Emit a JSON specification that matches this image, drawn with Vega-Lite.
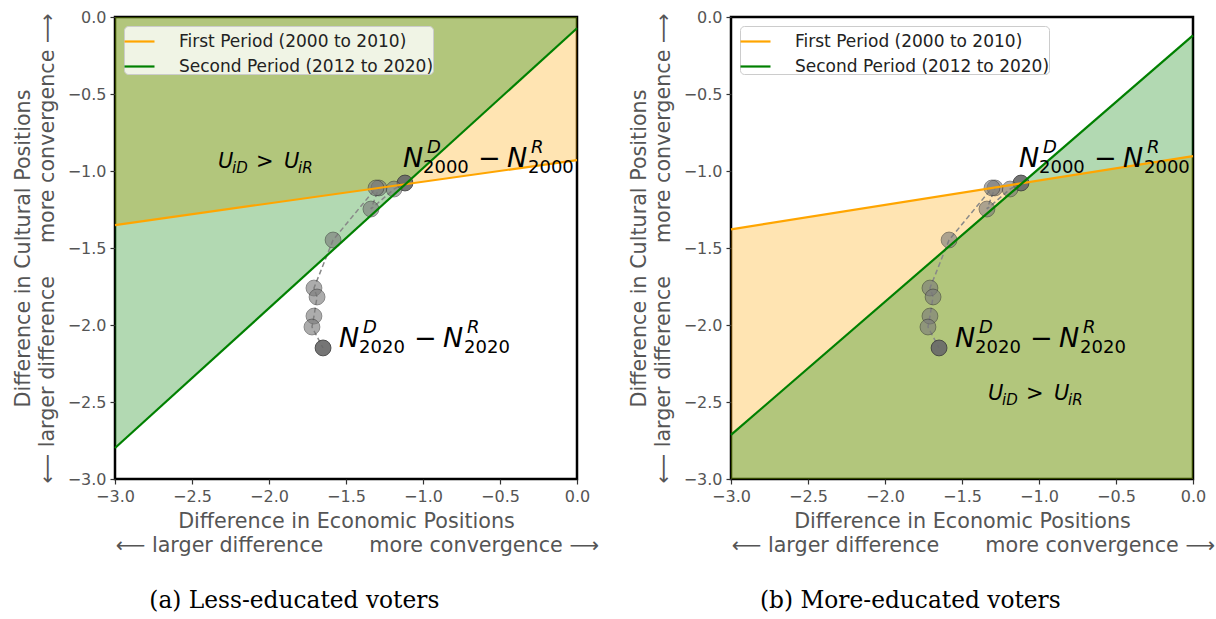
{
  "$schema": "https://vega.github.io/schema/vega-lite/v6.json",
  "background": "white",
  "padding": {"left": 10, "top": 7, "right": 0, "bottom": 5},
  "datasets": {
    "lines": [
      {"panel": "a", "period": "First Period (2000 to 2010)", "x": -3, "y": -1.351},
      {"panel": "a", "period": "First Period (2000 to 2010)", "x": 0, "y": -0.929},
      {"panel": "a", "period": "Second Period (2012 to 2020)", "x": -3, "y": -2.799},
      {"panel": "a", "period": "Second Period (2012 to 2020)", "x": 0, "y": -0.073},
      {"panel": "b", "period": "First Period (2000 to 2010)", "x": -3, "y": -1.379},
      {"panel": "b", "period": "First Period (2000 to 2010)", "x": 0, "y": -0.903},
      {"panel": "b", "period": "Second Period (2012 to 2020)", "x": -3, "y": -2.714},
      {"panel": "b", "period": "Second Period (2012 to 2020)", "x": 0, "y": -0.119}
    ],
    "points": [
      {"year": 2000, "x": -1.117, "y": -1.078},
      {"year": 2002, "x": -1.188, "y": -1.117},
      {"year": 2004, "x": -1.338, "y": -1.247},
      {"year": 2006, "x": -1.286, "y": -1.110},
      {"year": 2008, "x": -1.305, "y": -1.110},
      {"year": 2010, "x": -1.584, "y": -1.448},
      {"year": 2012, "x": -1.708, "y": -1.760},
      {"year": 2014, "x": -1.688, "y": -1.818},
      {"year": 2016, "x": -1.708, "y": -1.942},
      {"year": 2018, "x": -1.721, "y": -2.013},
      {"year": 2020, "x": -1.649, "y": -2.149}
    ],
    "labels": [
      {"year": "2000", "x": -1.130, "y": -0.974},
      {"year": "2020", "x": -1.545, "y": -2.143}
    ],
    "ulabels": [
      {"panel": "a", "x": -2.331, "y": -0.981},
      {"panel": "b", "x": -1.331, "y": -2.487}
    ]
  },
  "config": {
    "font": "DejaVu Sans",
    "view": {"stroke": "black", "strokeWidth": 2.5},
    "axis": {
      "grid": false, "domain": false, "tickColor": "#333", "tickSize": 5, "tickWidth": 1.2,
      "labelFont": "DejaVu Sans", "labelFontSize": 16, "labelColor": "#555", "labelPadding": 4,
      "labelFlush": false, "labelOverlap": false,
      "titleFont": "DejaVu Sans", "titleFontSize": 20.7, "titleColor": "#555", "titleFontWeight": "normal", "titleLineHeight": 24
    },
    "legend": {
      "orient": "top-left", "offset": 9, "fillColor": "rgba(255,255,255,0.8)", "strokeColor": "#cccccc",
      "cornerRadius": 4, "padding": -1, "symbolType": "stroke", "symbolSize": 900, "symbolStrokeWidth": 2.2,
      "labelFont": "DejaVu Sans", "labelFontSize": 17, "labelColor": "#222", "rowPadding": -5, "labelOffset": 23, "labelLimit": 0
    },
    "title": {"orient": "bottom", "font": "DejaVu Serif", "fontSize": 23.3, "fontWeight": "normal", "color": "black", "offset": 35, "frame": "bounds", "anchor": "middle", "dx": -11}
  },
  "spacing": 26,
  "resolve": {"legend": {"color": "independent"}, "scale": {"color": "independent"}},
  "hconcat": [
    {
      "width": 462, "height": 462,
      "title": {"text": "(a) Less-educated voters"},
      "layer": [
        {"data": {"name": "lines"}, "transform": [{"filter": "datum.panel == 'a' && datum.period == 'First Period (2000 to 2010)'"}],
         "mark": {"type": "area", "color": "orange", "opacity": 0.3},
         "encoding": {
           "x": {"field": "x", "type": "quantitative", "scale": {"domain": [-3, 0], "nice": false},
                 "axis": {"values": [-3, -2.5, -2, -1.5, -1, -0.5, 0], "format": ".1f", "titlePadding": 7,
                          "title": ["Difference in Economic Positions", "\u2800\u00a0⟵ larger difference\u00a0\u00a0\u00a0\u00a0\u00a0\u00a0\u00a0more convergence ⟶"]}},
           "y": {"field": "y", "type": "quantitative", "scale": {"domain": [-3, 0], "nice": false},
                 "axis": {"values": [-3, -2.5, -2, -1.5, -1, -0.5, 0], "format": ".1f", "titlePadding": 10,
                          "title": ["Difference in Cultural Positions", "⟵ larger difference\u00a0\u00a0\u00a0\u00a0\u00a0more convergence ⟶"]}},
           "y2": {"datum": 0}}},
        {"data": {"name": "lines"}, "transform": [{"filter": "datum.panel == 'a' && datum.period == 'Second Period (2012 to 2020)'"}],
         "mark": {"type": "area", "color": "green", "opacity": 0.3},
         "encoding": {"x": {"field": "x", "type": "quantitative"}, "y": {"field": "y", "type": "quantitative"}, "y2": {"datum": 0}}},
        {"data": {"name": "points"},
         "mark": {"type": "line", "color": "#888", "strokeDash": [5, 3], "strokeWidth": 1.5},
         "encoding": {"x": {"field": "x", "type": "quantitative"}, "y": {"field": "y", "type": "quantitative"}, "order": {"field": "year"}}},
        {"data": {"name": "points"},
         "mark": {"type": "circle", "size": 250, "stroke": "#404040", "strokeWidth": 1},
         "encoding": {"x": {"field": "x", "type": "quantitative"}, "y": {"field": "y", "type": "quantitative"},
           "color": {"condition": {"test": "datum.year == 2000 || datum.year == 2020", "value": "#6a6a6a"}, "value": "#7a7a7a"},
           "opacity": {"condition": {"test": "datum.year == 2000 || datum.year == 2020", "value": 0.92}, "value": 0.62}}},
        {"data": {"name": "lines"}, "transform": [{"filter": "datum.panel == 'a'"}],
         "mark": {"type": "line", "strokeWidth": 2.2},
         "encoding": {"x": {"field": "x", "type": "quantitative"}, "y": {"field": "y", "type": "quantitative"},
           "color": {"field": "period", "type": "nominal", "scale": {"domain": ["First Period (2000 to 2010)", "Second Period (2012 to 2020)"], "range": ["orange", "green"]}, "legend": {"title": null}}}},
        {"data": {"name": "labels"}, "mark": {"type": "text", "text": "N", "fontSize": 27, "fontStyle": "italic", "align": "left", "baseline": "alphabetic", "color": "black"},
         "encoding": {"x": {"field": "x", "type": "quantitative"}, "y": {"field": "y", "type": "quantitative"}}},
        {"data": {"name": "labels"}, "mark": {"type": "text", "text": "D", "fontSize": 18, "fontStyle": "italic", "align": "left", "baseline": "alphabetic", "dx": 24, "dy": -14, "color": "black"},
         "encoding": {"x": {"field": "x", "type": "quantitative"}, "y": {"field": "y", "type": "quantitative"}}},
        {"data": {"name": "labels"}, "mark": {"type": "text", "fontSize": 18, "align": "left", "baseline": "alphabetic", "dx": 20, "dy": 6, "color": "black"},
         "encoding": {"x": {"field": "x", "type": "quantitative"}, "y": {"field": "y", "type": "quantitative"}, "text": {"field": "year"}}},
        {"data": {"name": "labels"}, "mark": {"type": "text", "text": "−", "fontSize": 27, "align": "left", "baseline": "alphabetic", "dx": 75, "color": "black"},
         "encoding": {"x": {"field": "x", "type": "quantitative"}, "y": {"field": "y", "type": "quantitative"}}},
        {"data": {"name": "labels"}, "mark": {"type": "text", "text": "N", "fontSize": 27, "fontStyle": "italic", "align": "left", "baseline": "alphabetic", "dx": 104, "color": "black"},
         "encoding": {"x": {"field": "x", "type": "quantitative"}, "y": {"field": "y", "type": "quantitative"}}},
        {"data": {"name": "labels"}, "mark": {"type": "text", "text": "R", "fontSize": 18, "fontStyle": "italic", "align": "left", "baseline": "alphabetic", "dx": 128, "dy": -14, "color": "black"},
         "encoding": {"x": {"field": "x", "type": "quantitative"}, "y": {"field": "y", "type": "quantitative"}}},
        {"data": {"name": "labels"}, "mark": {"type": "text", "fontSize": 18, "align": "left", "baseline": "alphabetic", "dx": 125, "dy": 6, "color": "black"},
         "encoding": {"x": {"field": "x", "type": "quantitative"}, "y": {"field": "y", "type": "quantitative"}, "text": {"field": "year"}}},
        {"data": {"name": "ulabels"}, "transform": [{"filter": "datum.panel == 'a'"}], "mark": {"type": "text", "text": "U", "fontSize": 21, "fontStyle": "italic", "align": "left", "baseline": "alphabetic", "color": "black"},
         "encoding": {"x": {"field": "x", "type": "quantitative"}, "y": {"field": "y", "type": "quantitative"}}},
        {"data": {"name": "ulabels"}, "transform": [{"filter": "datum.panel == 'a'"}], "mark": {"type": "text", "text": "iD", "fontSize": 15, "fontStyle": "italic", "align": "left", "baseline": "alphabetic", "dx": 14, "dy": 5, "color": "black"},
         "encoding": {"x": {"field": "x", "type": "quantitative"}, "y": {"field": "y", "type": "quantitative"}}},
        {"data": {"name": "ulabels"}, "transform": [{"filter": "datum.panel == 'a'"}], "mark": {"type": "text", "text": ">", "fontSize": 21, "align": "left", "baseline": "alphabetic", "dx": 38, "color": "black"},
         "encoding": {"x": {"field": "x", "type": "quantitative"}, "y": {"field": "y", "type": "quantitative"}}},
        {"data": {"name": "ulabels"}, "transform": [{"filter": "datum.panel == 'a'"}], "mark": {"type": "text", "text": "U", "fontSize": 21, "fontStyle": "italic", "align": "left", "baseline": "alphabetic", "dx": 66, "color": "black"},
         "encoding": {"x": {"field": "x", "type": "quantitative"}, "y": {"field": "y", "type": "quantitative"}}},
        {"data": {"name": "ulabels"}, "transform": [{"filter": "datum.panel == 'a'"}], "mark": {"type": "text", "text": "iR", "fontSize": 15, "fontStyle": "italic", "align": "left", "baseline": "alphabetic", "dx": 80, "dy": 5, "color": "black"},
         "encoding": {"x": {"field": "x", "type": "quantitative"}, "y": {"field": "y", "type": "quantitative"}}}
      ]
    },
    {
      "width": 462, "height": 462,
      "title": {"text": "(b) More-educated voters"},
      "layer": [
        {"data": {"name": "lines"}, "transform": [{"filter": "datum.panel == 'b' && datum.period == 'First Period (2000 to 2010)'"}],
         "mark": {"type": "area", "color": "orange", "opacity": 0.3},
         "encoding": {
           "x": {"field": "x", "type": "quantitative", "scale": {"domain": [-3, 0], "nice": false},
                 "axis": {"values": [-3, -2.5, -2, -1.5, -1, -0.5, 0], "format": ".1f", "titlePadding": 7,
                          "title": ["Difference in Economic Positions", "\u2800\u00a0⟵ larger difference\u00a0\u00a0\u00a0\u00a0\u00a0\u00a0\u00a0more convergence ⟶"]}},
           "y": {"field": "y", "type": "quantitative", "scale": {"domain": [-3, 0], "nice": false},
                 "axis": {"values": [-3, -2.5, -2, -1.5, -1, -0.5, 0], "format": ".1f", "titlePadding": 10,
                          "title": ["Difference in Cultural Positions", "⟵ larger difference\u00a0\u00a0\u00a0\u00a0\u00a0more convergence ⟶"]}},
           "y2": {"datum": -3}}},
        {"data": {"name": "lines"}, "transform": [{"filter": "datum.panel == 'b' && datum.period == 'Second Period (2012 to 2020)'"}],
         "mark": {"type": "area", "color": "green", "opacity": 0.3},
         "encoding": {"x": {"field": "x", "type": "quantitative"}, "y": {"field": "y", "type": "quantitative"}, "y2": {"datum": -3}}},
        {"data": {"name": "points"},
         "mark": {"type": "line", "color": "#888", "strokeDash": [5, 3], "strokeWidth": 1.5},
         "encoding": {"x": {"field": "x", "type": "quantitative"}, "y": {"field": "y", "type": "quantitative"}, "order": {"field": "year"}}},
        {"data": {"name": "points"},
         "mark": {"type": "circle", "size": 250, "stroke": "#404040", "strokeWidth": 1},
         "encoding": {"x": {"field": "x", "type": "quantitative"}, "y": {"field": "y", "type": "quantitative"},
           "color": {"condition": {"test": "datum.year == 2000 || datum.year == 2020", "value": "#6a6a6a"}, "value": "#7a7a7a"},
           "opacity": {"condition": {"test": "datum.year == 2000 || datum.year == 2020", "value": 0.92}, "value": 0.62}}},
        {"data": {"name": "lines"}, "transform": [{"filter": "datum.panel == 'b'"}],
         "mark": {"type": "line", "strokeWidth": 2.2},
         "encoding": {"x": {"field": "x", "type": "quantitative"}, "y": {"field": "y", "type": "quantitative"},
           "color": {"field": "period", "type": "nominal", "scale": {"domain": ["First Period (2000 to 2010)", "Second Period (2012 to 2020)"], "range": ["orange", "green"]}, "legend": {"title": null}}}},
        {"data": {"name": "labels"}, "mark": {"type": "text", "text": "N", "fontSize": 27, "fontStyle": "italic", "align": "left", "baseline": "alphabetic", "color": "black"},
         "encoding": {"x": {"field": "x", "type": "quantitative"}, "y": {"field": "y", "type": "quantitative"}}},
        {"data": {"name": "labels"}, "mark": {"type": "text", "text": "D", "fontSize": 18, "fontStyle": "italic", "align": "left", "baseline": "alphabetic", "dx": 24, "dy": -14, "color": "black"},
         "encoding": {"x": {"field": "x", "type": "quantitative"}, "y": {"field": "y", "type": "quantitative"}}},
        {"data": {"name": "labels"}, "mark": {"type": "text", "fontSize": 18, "align": "left", "baseline": "alphabetic", "dx": 20, "dy": 6, "color": "black"},
         "encoding": {"x": {"field": "x", "type": "quantitative"}, "y": {"field": "y", "type": "quantitative"}, "text": {"field": "year"}}},
        {"data": {"name": "labels"}, "mark": {"type": "text", "text": "−", "fontSize": 27, "align": "left", "baseline": "alphabetic", "dx": 75, "color": "black"},
         "encoding": {"x": {"field": "x", "type": "quantitative"}, "y": {"field": "y", "type": "quantitative"}}},
        {"data": {"name": "labels"}, "mark": {"type": "text", "text": "N", "fontSize": 27, "fontStyle": "italic", "align": "left", "baseline": "alphabetic", "dx": 104, "color": "black"},
         "encoding": {"x": {"field": "x", "type": "quantitative"}, "y": {"field": "y", "type": "quantitative"}}},
        {"data": {"name": "labels"}, "mark": {"type": "text", "text": "R", "fontSize": 18, "fontStyle": "italic", "align": "left", "baseline": "alphabetic", "dx": 128, "dy": -14, "color": "black"},
         "encoding": {"x": {"field": "x", "type": "quantitative"}, "y": {"field": "y", "type": "quantitative"}}},
        {"data": {"name": "labels"}, "mark": {"type": "text", "fontSize": 18, "align": "left", "baseline": "alphabetic", "dx": 125, "dy": 6, "color": "black"},
         "encoding": {"x": {"field": "x", "type": "quantitative"}, "y": {"field": "y", "type": "quantitative"}, "text": {"field": "year"}}},
        {"data": {"name": "ulabels"}, "transform": [{"filter": "datum.panel == 'b'"}], "mark": {"type": "text", "text": "U", "fontSize": 21, "fontStyle": "italic", "align": "left", "baseline": "alphabetic", "color": "black"},
         "encoding": {"x": {"field": "x", "type": "quantitative"}, "y": {"field": "y", "type": "quantitative"}}},
        {"data": {"name": "ulabels"}, "transform": [{"filter": "datum.panel == 'b'"}], "mark": {"type": "text", "text": "iD", "fontSize": 15, "fontStyle": "italic", "align": "left", "baseline": "alphabetic", "dx": 14, "dy": 5, "color": "black"},
         "encoding": {"x": {"field": "x", "type": "quantitative"}, "y": {"field": "y", "type": "quantitative"}}},
        {"data": {"name": "ulabels"}, "transform": [{"filter": "datum.panel == 'b'"}], "mark": {"type": "text", "text": ">", "fontSize": 21, "align": "left", "baseline": "alphabetic", "dx": 38, "color": "black"},
         "encoding": {"x": {"field": "x", "type": "quantitative"}, "y": {"field": "y", "type": "quantitative"}}},
        {"data": {"name": "ulabels"}, "transform": [{"filter": "datum.panel == 'b'"}], "mark": {"type": "text", "text": "U", "fontSize": 21, "fontStyle": "italic", "align": "left", "baseline": "alphabetic", "dx": 66, "color": "black"},
         "encoding": {"x": {"field": "x", "type": "quantitative"}, "y": {"field": "y", "type": "quantitative"}}},
        {"data": {"name": "ulabels"}, "transform": [{"filter": "datum.panel == 'b'"}], "mark": {"type": "text", "text": "iR", "fontSize": 15, "fontStyle": "italic", "align": "left", "baseline": "alphabetic", "dx": 80, "dy": 5, "color": "black"},
         "encoding": {"x": {"field": "x", "type": "quantitative"}, "y": {"field": "y", "type": "quantitative"}}}
      ]
    }
  ]
}
